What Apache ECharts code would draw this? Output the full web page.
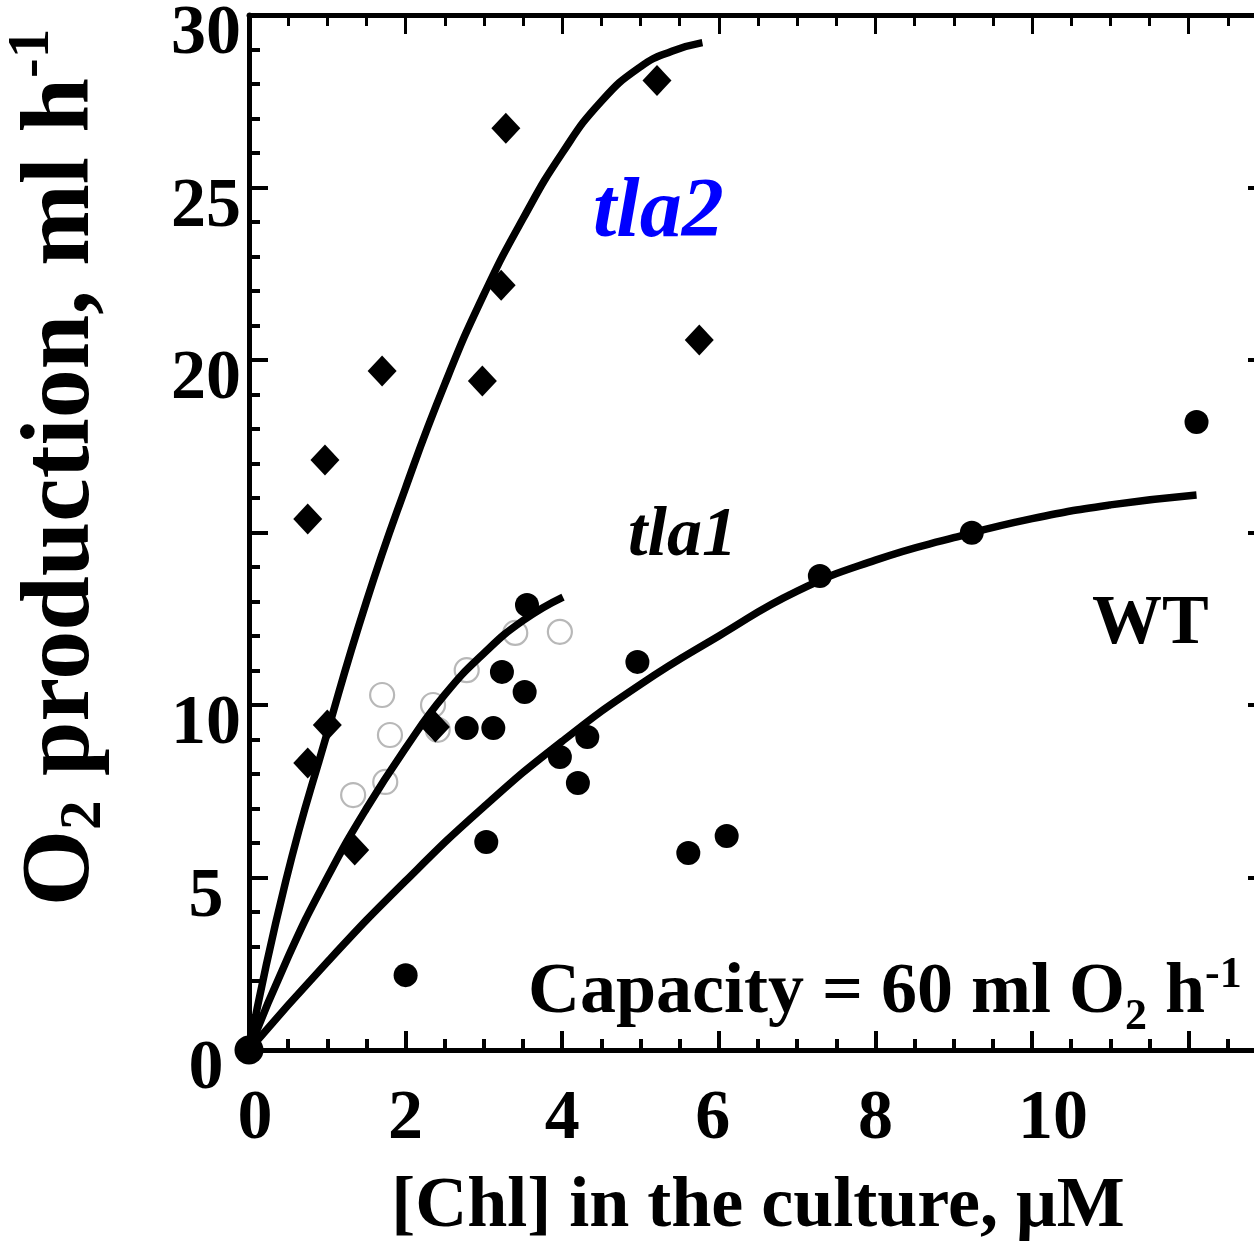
<!DOCTYPE html>
<html><head><meta charset="utf-8">
<script src="https://cdn.jsdelivr.net/npm/echarts@6/dist/echarts.min.js"></script>
<style>html,body{margin:0;padding:0;background:#fff}#c{width:1254px;height:1245px}</style>
</head><body><div id="c"></div>
<script>
// ---- data ----
const xTickLabels = ['0', '2', '4', '6', '8', '10'];
const yTickLabels = ['0', '5', '10', '20', '25', '30'];

// tla2 measurements (filled diamonds)
const tla2Pts = [[0.75,8.32],[1.0,9.42],[1.35,5.8],[0.75,15.39],[0.97,17.1],[1.70,19.68],
  [2.98,19.39],[3.22,22.17],[3.28,26.72],[5.21,28.1],[5.75,20.58],[2.38,9.36]];
// tla1 measurements (open grey circles)
const tla1Pts = [[1.33,7.39],[1.74,7.77],[1.80,9.13],[1.70,10.29],[2.35,10.0],[2.41,9.28],
  [2.78,11.01],[3.4,12.09],[3.97,12.12]];
// WT measurements (filled circles)
const wtPts = [[0,0],[2.0,2.17],[3.03,6.03],[2.78,9.33],[3.12,9.33],[3.23,10.96],[3.52,10.38],
  [3.55,12.9],[3.97,8.49],[4.32,9.07],[4.20,7.74],[4.96,11.25],[5.61,5.71],[6.10,6.2],
  [7.29,13.74],[9.23,14.99],[12.1,18.2]];

// fitted curves
const tla2Curve = [[0,0],[0.47,4.9],[1.0,9.2],[1.5,13.0],[2.0,16.3],[2.5,19.3],[3.0,21.9],
  [3.5,24.1],[4.0,26.0],[4.5,27.5],[5.0,28.5],[5.4,28.95],[5.79,29.2]];
const tla1Curve = [[0,0],[0.5,2.7],[1.0,5.0],[1.5,7.0],[2.0,8.75],[2.5,10.3],[3.0,11.5],
  [3.5,12.45],[4.01,13.13]];
const wtCurve = [[0,0],[1,2.55],[2,4.9],[3,7.05],[4,8.95],[5,10.6],[6,12.0],[7,13.3],
  [8,14.2],[9,14.85],[10,15.4],[11,15.8],[12.1,16.09]];

// ---- chart ----
const FONT = '"Liberation Serif", "Times New Roman", serif';
const chart = echarts.init(document.getElementById('c'), null, {renderer: 'canvas'});

const axisLineStyle = {color: '#000', width: 5};
const lblFont = {fontFamily: FONT, fontWeight: 'bold', fontSize: 70, color: '#000'};
function xAxisCfg(pos, showLabel) {
  return {
    type: 'value', position: pos, min: 0, max: 13, interval: 2,
    axisLine: {show: true, onZero: false, lineStyle: axisLineStyle},
    axisTick: {show: true, inside: true, length: 19, lineStyle: {color: '#000', width: pos === 'top' ? 3 : 4}},
    minorTick: {show: true, splitNumber: 4, length: 11, lineStyle: {color: '#000', width: pos === 'top' ? 3 : 4}},
    splitLine: {show: false}, minorSplitLine: {show: false},
    axisLabel: showLabel ? Object.assign({
      show: true, margin: 35, hideOverlap: false,
      formatter: v => {
        const s = String(v);
        if (!xTickLabels.includes(s)) return '';
        if (s === '10') return '{r|10}';
        if (s === '0') return '{z|0}';
        if (s === '6') return '{l|6}';
        return s;
      },
      rich: {
        r: Object.assign({padding: [0, 0, 0, 42]}, lblFont),
        z: Object.assign({padding: [0, 0, 0, 12]}, lblFont),
        l: Object.assign({padding: [0, 12, 0, 0]}, lblFont)
      }
    }, lblFont) : {show: false}
  };
}
function yAxisCfg(pos, showLabel) {
  return {
    type: 'value', position: pos, min: 0, max: 30, interval: 5,
    axisLine: {show: true, onZero: false, lineStyle: axisLineStyle},
    axisTick: {show: true, inside: true, length: 19, lineStyle: {color: '#000', width: 4}},
    minorTick: {show: true, splitNumber: 5, length: 11, lineStyle: {color: '#000', width: 4}},
    splitLine: {show: false}, minorSplitLine: {show: false},
    axisLabel: showLabel ? Object.assign({
      show: true, margin: 43, align: 'center', verticalAlign: 'top', lineHeight: 40, hideOverlap: false,
      formatter: v => yTickLabels.includes(String(v)) ? String(v) : ''
    }, lblFont) : {show: false}
  };
}

const xBottom = xAxisCfg('bottom', true);
xBottom.name = '[Chl] in the culture, \u03bcM';
xBottom.nameLocation = 'middle';
xBottom.nameGap = 121;
xBottom.nameTextStyle = {fontFamily: FONT, fontWeight: 'bold', fontSize: 72, color: '#000'};

const yLeft = yAxisCfg('left', true);
yLeft.name = '{m|O}{s|2}{m| production, ml h}{p|-1}';
yLeft.nameLocation = 'middle';
yLeft.nameRotate = 90;
yLeft.nameGap = 137;
yLeft.nameTextStyle = {
  fontFamily: FONT, fontWeight: 'bold', fontSize: 98, color: '#000',
  padding: [0, 0, 0, 130],
  rich: {
    m: {fontFamily: FONT, fontWeight: 'bold', fontSize: 98, lineHeight: 98, color: '#000'},
    s: {fontFamily: FONT, fontWeight: 'bold', fontSize: 59, lineHeight: 59, color: '#000', padding: [44, 0, 0, 0]},
    p: {fontFamily: FONT, fontWeight: 'bold', fontSize: 59, lineHeight: 59, color: '#000', padding: [0, 0, 60, 0]}
  }
};

const option = {
  animation: false,
  backgroundColor: '#fff',
  grid: {left: 249, top: 15, width: 1018, height: 1035, containLabel: false, outerBoundsMode: 'none'},
  xAxis: [xBottom, xAxisCfg('top', false)],
  yAxis: [yLeft, yAxisCfg('right', false)],
  series: [
    {name: 'tla1', type: 'scatter', data: tla1Pts, symbol: 'circle', symbolSize: 24, z: 1,
     itemStyle: {color: 'rgba(255,255,255,0)', borderColor: '#b8b8b8', borderWidth: 2.2, opacity: 1}},
    {name: 'tla2 fit', type: 'line', data: tla2Curve, showSymbol: false, symbol: 'none', smooth: 0.5, z: 2,
     lineStyle: {color: '#000', width: 7.5}},
    {name: 'tla1 fit', type: 'line', data: tla1Curve, showSymbol: false, symbol: 'none', smooth: 0.5, z: 2,
     lineStyle: {color: '#000', width: 7.5}},
    {name: 'WT fit', type: 'line', data: wtCurve, showSymbol: false, symbol: 'none', smooth: 0.5, z: 2,
     lineStyle: {color: '#000', width: 7.5}},
    {name: 'tla2', type: 'scatter', data: tla2Pts, symbol: 'diamond', symbolSize: [29, 31], z: 3,
     itemStyle: {color: '#000', opacity: 1}},
    {name: 'WT', type: 'scatter', data: wtPts, symbol: 'circle', z: 3,
     symbolSize: v => (v[0] === 0 ? 29 : 24), itemStyle: {color: '#000', opacity: 1}}
  ],
  graphic: [
    {type: 'text', left: 593, top: 172, style: {text: 'tla2', fill: '#0000ff',
      font: 'italic bold 84px ' + FONT}},
    {type: 'text', left: 628, top: 502, style: {text: 'tla1', fill: '#000',
      font: 'italic bold 70px ' + FONT}},
    {type: 'text', left: 1092, top: 590, style: {text: 'WT', fill: '#000',
      font: 'bold 70px ' + FONT}},
    {type: 'text', left: 528, top: 946, style: {
      text: '{m|Capacity = 60 ml O}{s|2}{m| h}{p|-1}', fill: '#000',
      rich: {
        m: {fontFamily: FONT, fontWeight: 'bold', fontSize: 72, lineHeight: 72, fill: '#000'},
        s: {fontFamily: FONT, fontWeight: 'bold', fontSize: 44, lineHeight: 44, fill: '#000', padding: [50, 0, 0, 0]},
        p: {fontFamily: FONT, fontWeight: 'bold', fontSize: 44, lineHeight: 44, fill: '#000', padding: [0, 0, 34, 0]}
      }}}
  ]
};
chart.setOption(option);
</script>
</body></html>
